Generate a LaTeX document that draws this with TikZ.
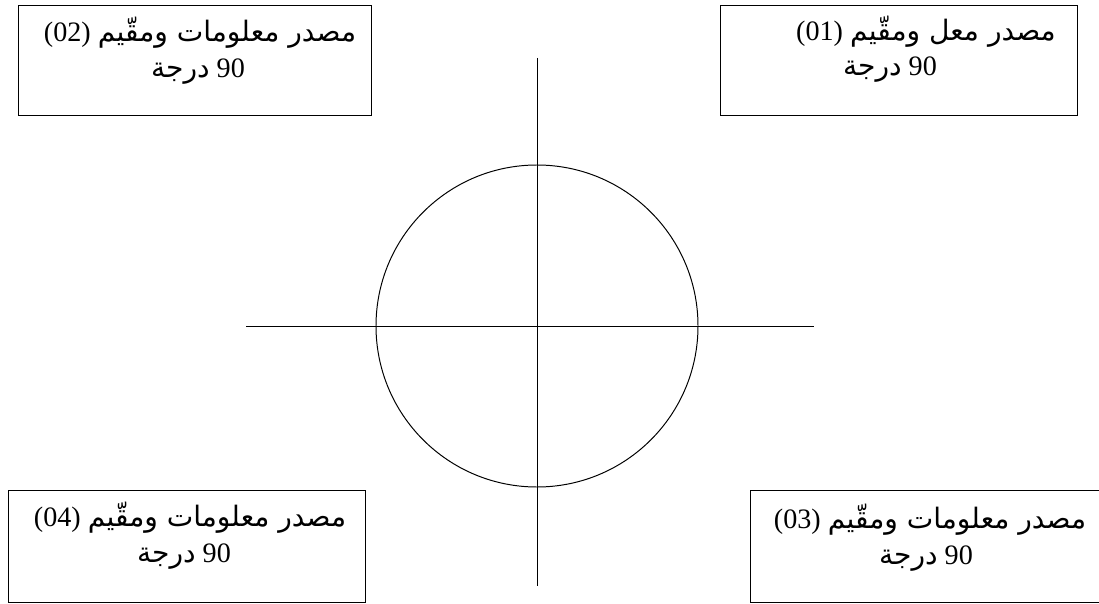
\documentclass[tikz,border=0pt]{standalone}
\usepackage{fontspec}
\setmainfont{Liberation Serif}
\newfontfamily\arabicfont[Script=Arabic]{DejaVu Sans}
\TeXXeTstate=1
\tikzset{
  srcbox/.style = {draw, line width=1pt, inner sep=0pt, anchor=north west},
  srctext/.style = {inner sep=0pt, font=\fontsize{20}{24}\selectfont},
  axis/.style = {line width=0.7pt}
}
\begin{document}
\begin{tikzpicture}[x=0.025cm, y=-0.025cm]
			\useasboundingbox (0,0) rectangle (1099,604);
			\clip (0,0) rectangle (1099,604);
			
			% boxes
			\node[srcbox, minimum width=353*0.025cm, minimum height=110*0.025cm] (b2) at (18,5) {};
			\node[srcbox, minimum width=357*0.025cm, minimum height=110*0.025cm] (b1) at (720,5) {};
			\node[srcbox, minimum width=357*0.025cm, minimum height=112*0.025cm] (b4) at (8,490) {};
			\node[srcbox, minimum width=360*0.025cm, minimum height=112*0.025cm] (b3) at (750,490) {};
			
			% texts
			\node[srctext] (l2a) at (200,33) {\beginR{\arabicfont مصدر معلومات ومقّيم} \beginL(02)\endL\endR};
			\node[srctext] (l2b) at (198,72) {\beginR\beginL 90\endL{} {\arabicfont درجة}\endR};
			\node[srctext] (l1a) at (926,32) {\beginR{\arabicfont مصدر معل ومقّيم} \beginL(01)\endL\endR};
			\node[srctext] (l1b) at (890,70) {\beginR\beginL 90\endL{} {\arabicfont درجة}\endR};
			\node[srctext] (l4a) at (190,518) {\beginR{\arabicfont مصدر معلومات ومقّيم} \beginL(04)\endL\endR};
			\node[srctext] (l4b) at (184,557) {\beginR\beginL 90\endL{} {\arabicfont درجة}\endR};
			\node[srctext] (l3a) at (930,520) {\beginR{\arabicfont مصدر معلومات ومقّيم} \beginL(03)\endL\endR};
			\node[srctext] (l3b) at (926,559) {\beginR\beginL 90\endL{} {\arabicfont درجة}\endR};
			
			% circle and axes
			\coordinate (o) at (537,326);
			\coordinate (west) at (246,326);
			\coordinate (east) at (814,326);
			\coordinate (north) at (537,58);
			\coordinate (south) at (537,586);
			\draw[axis] (o) circle [radius=161*0.025cm];
			\draw[axis] (west) -- (east);
			\draw[axis] (north) -- (south);
		\end{tikzpicture}
\end{document}
